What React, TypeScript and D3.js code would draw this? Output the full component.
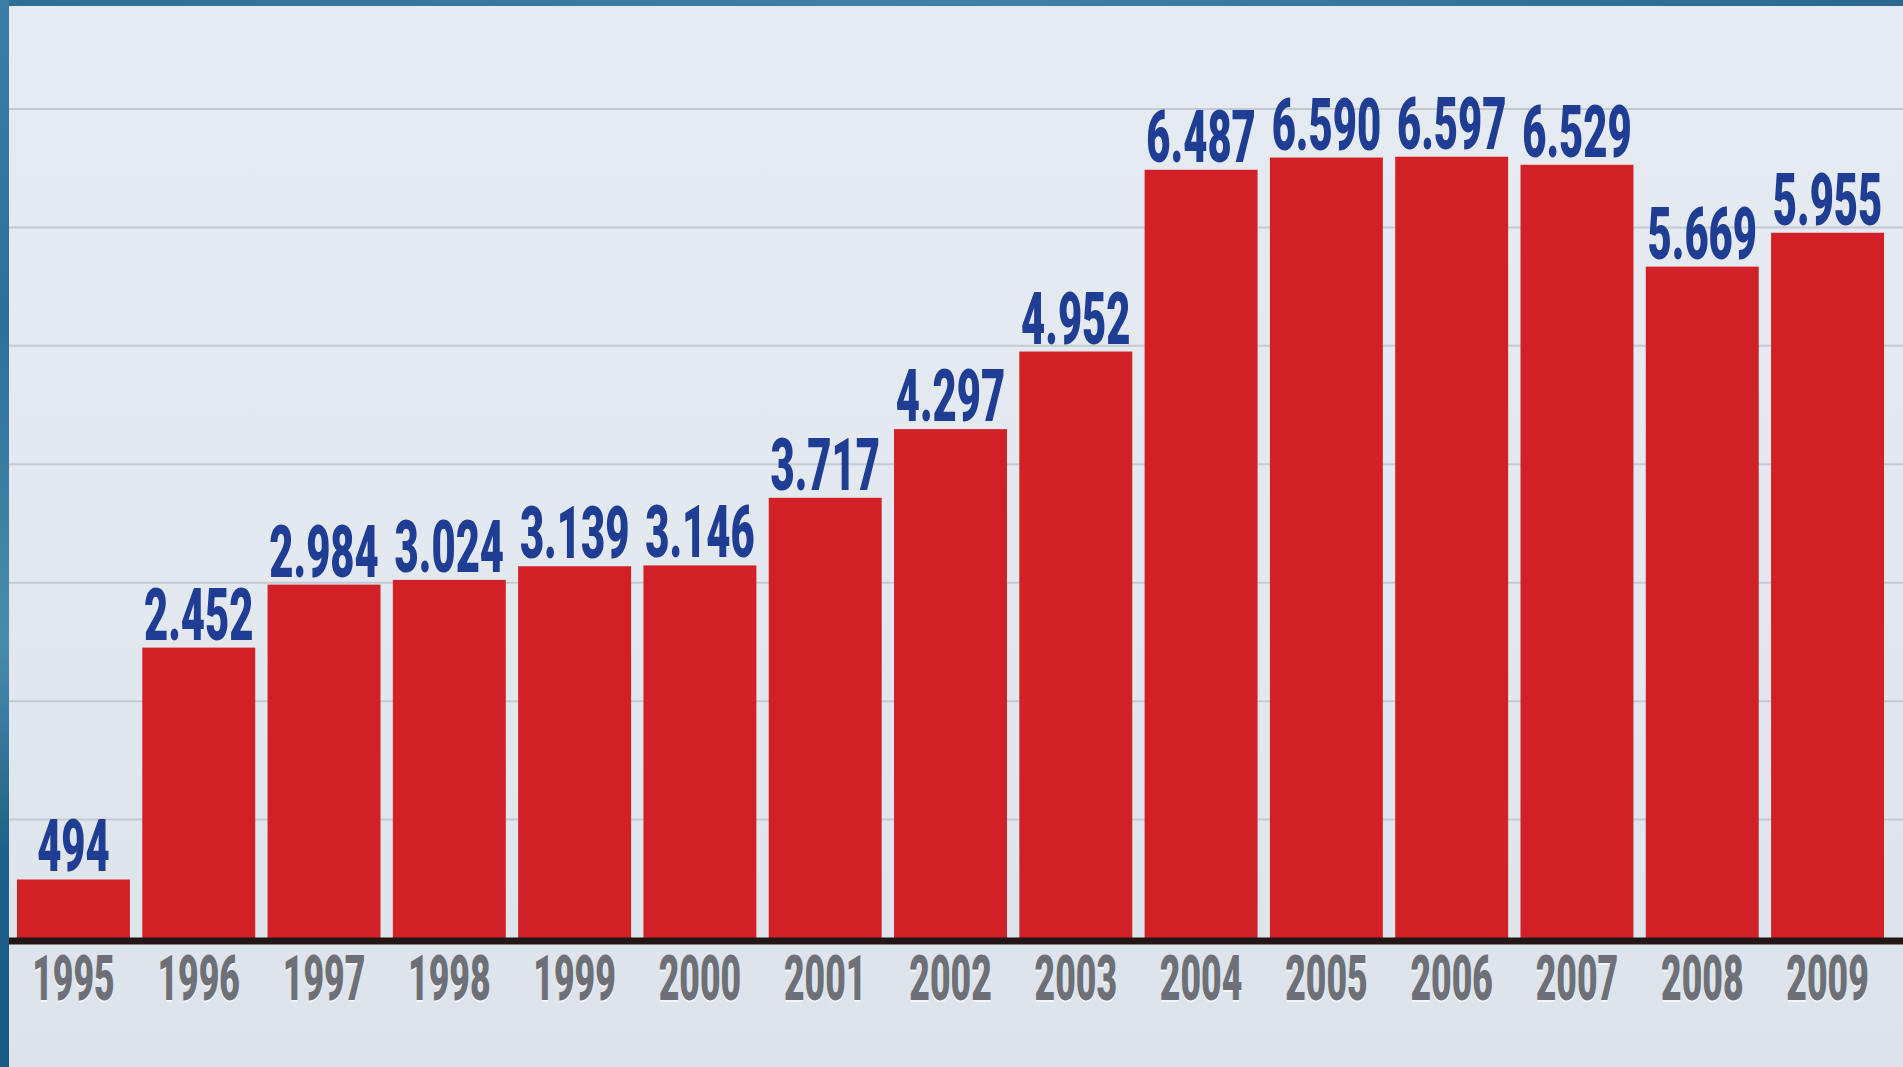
import React from "react";
import * as d3 from "d3";

const years = ["1995","1996","1997","1998","1999","2000","2001","2002","2003","2004","2005","2006","2007","2008","2009"];
const values = [494, 2452, 2984, 3024, 3139, 3146, 3717, 4297, 4952, 6487, 6590, 6597, 6529, 5669, 5955];
const valueLabels = ["494","2.452","2.984","3.024","3.139","3.146","3.717","4.297","4.952","6.487","6.590","6.597","6.529","5.669","5.955"];
const gridValues = [1000, 2000, 3000, 4000, 5000, 6000, 7000];

const W = 1903;
const H = 1067;

export default function App() {
  const x = d3.scaleBand<string>()
    .domain(years)
    .range([10.8, 1890.2])
    .paddingInner(0.0986)
    .paddingOuter(0.0493);
  const y = d3.scaleLinear().domain([0, 7000]).range([938, 109]);
  const font = "Roboto, 'DejaVu Sans', sans-serif";

  return (
    <svg width={W} height={H} style={{ position: "absolute", left: 0, top: 0, display: "block" }}>
      <defs>
        <linearGradient id="bg" x1="0" y1="0" x2="0" y2="1">
          <stop offset="0" stopColor="#e6ebf1" />
          <stop offset="0.6" stopColor="#e2e8ee" />
          <stop offset="1" stopColor="#dce3ea" />
        </linearGradient>
        <linearGradient id="leftStrip" x1="0" y1="0" x2="0" y2="1">
          <stop offset="0" stopColor="#3d7ea6" />
          <stop offset="0.3" stopColor="#2e6f98" />
          <stop offset="0.6" stopColor="#4b8ab0" />
          <stop offset="0.8" stopColor="#1f6088" />
          <stop offset="1" stopColor="#185a82" />
        </linearGradient>
        <linearGradient id="topStrip" x1="0" y1="0" x2="1" y2="0">
          <stop offset="0" stopColor="#2f6f97" />
          <stop offset="0.5" stopColor="#3f81a9" />
          <stop offset="1" stopColor="#2a6890" />
        </linearGradient>
      </defs>
      <rect x={0} y={0} width={W} height={H} fill="url(#bg)" />
      {gridValues.map((g) => (
        <line key={g} x1={9} x2={W} y1={y(g)} y2={y(g)} stroke="#c3cad2" strokeWidth={2} />
      ))}
      {years.map((yr, i) => (
        <rect
          key={yr}
          x={x(yr)}
          y={y(values[i])}
          width={x.bandwidth()}
          height={y(0) - y(values[i])}
          fill="#d22027"
        />
      ))}
      <line x1={9} x2={W} y1={941} y2={941} stroke="#231616" strokeWidth={7} />
      {years.map((yr, i) => {
        const cx = (x(yr) as number) + x.bandwidth() / 2;
        return (
          <text
            key={"v" + yr}
            transform={`translate(${cx},${y(values[i]) - 8}) scale(0.58,1)`}
            textAnchor="middle"
            fontFamily={font}
            fontWeight={900}
            fontSize={72}
            fill="#1f3e93"
          >
            {valueLabels[i]}
          </text>
        );
      })}
      {years.map((yr) => {
        const cx = (x(yr) as number) + x.bandwidth() / 2;
        return (
          <g key={"y" + yr}>
            <text
              transform={`translate(${cx},${1002}) scale(0.565,1)`}
              textAnchor="middle"
              fontFamily={font}
              fontWeight={900}
              fontSize={63}
              fill="#f3f5f8"
            >
              {yr}
            </text>
            <text
              transform={`translate(${cx},${1000}) scale(0.565,1)`}
              textAnchor="middle"
              fontFamily={font}
              fontWeight={900}
              fontSize={63}
              fill="#6d7077"
            >
              {yr}
            </text>
          </g>
        );
      })}
      <rect x={0} y={0} width={W} height={6} fill="url(#topStrip)" />
      <rect x={0} y={0} width={9} height={H} fill="url(#leftStrip)" />
    </svg>
  );
}
